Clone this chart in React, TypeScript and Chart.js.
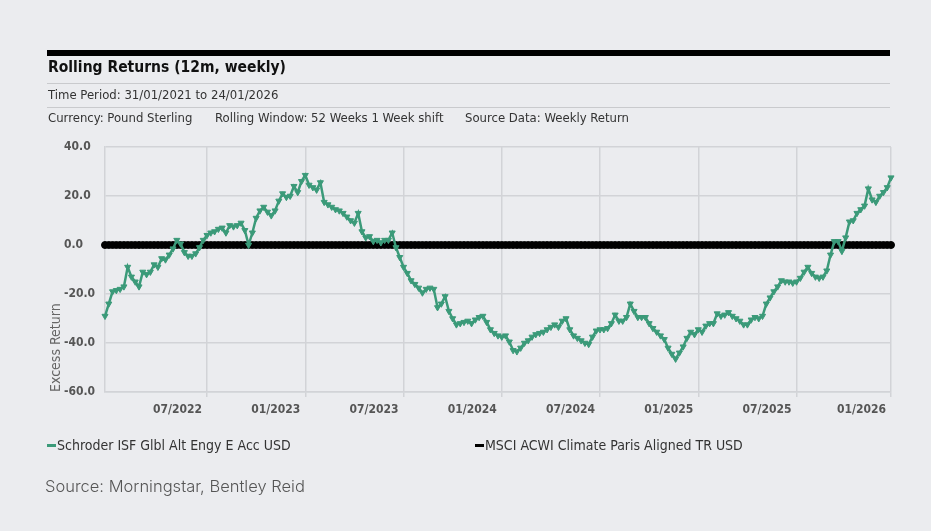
import React, { useEffect, useRef } from 'react';
import { Chart, registerables } from 'chart.js';

Chart.register(...registerables);

// ---- data ----
const fundName = 'Schroder ISF Glbl Alt Engy E Acc USD';
const benchName = 'MSCI ACWI Climate Paris Aligned TR USD';

// weekly rolling 12m excess return of the fund (first value = week ending 30/01/2022)
const fundExcess = [
  -29, -24, -19, -18.5, -18, -17, -9, -13, -15, -17,
  -11, -12, -11, -8, -9, -5.5, -6, -4, -1.5, 2,
  0.5, -3, -4.5, -4.5, -3.5, -1, 2, 4, 5, 5.5,
  6.5, 7, 5, 8, 7.5, 8, 9, 6, 0, 5,
  11, 14, 15.5, 13.5, 12, 14, 18, 21, 19.5, 20,
  24, 21.5, 26, 28.5, 24.5, 23.5, 22.5, 25.5, 17.5, 16.5,
  15.5, 14.5, 14, 13, 11.5, 10, 9, 13, 5.5, 3,
  3.5, 1.5, 2, 1, 2, 2, 5, -1, -5, -9,
  -11.5, -14.5, -16, -17.5, -19.5, -18, -17.5, -18, -25.5, -24,
  -21, -27, -30, -32.5, -32, -31.5, -31, -32, -30.5, -29.5,
  -29, -31.5, -34.5, -36, -37, -37.5, -37, -39.5, -43, -43.5,
  -42, -40, -39, -37.5, -36.5, -36, -35.5, -34.5, -33.5, -32.5,
  -33.5, -31, -30, -34.5, -37, -38, -39, -40, -40.5, -37.5,
  -35, -34.5, -34.5, -34, -32, -28.5, -31, -31, -29.5, -24,
  -27, -29.5, -29.5, -29.5, -32, -34, -35.5, -37, -38.5, -42,
  -44.5, -46.5, -44, -41.5, -38, -35.5, -36.5, -34.5, -35.5, -33,
  -32, -32, -28, -29, -28.5, -27.5, -29, -30, -31, -32.5,
  -32.5, -30.5, -29.5, -30, -29, -24, -21.5, -19, -17, -14.5,
  -15, -15, -15.5, -15, -13.5, -11, -9, -11.5, -13, -13.5,
  -13, -10.5, -4, 1.5, 1.5, -2.5, 3, 9.5, 10, 13,
  14.5, 16, 23, 18.5, 17.5, 20, 21.5, 23.5, 27.5,
];

// benchmark relative to itself
const benchExcess = [
  0, 0, 0, 0, 0, 0, 0, 0, 0, 0, 0, 0, 0, 0, 0, 0, 0, 0, 0, 0,
  0, 0, 0, 0, 0, 0, 0, 0, 0, 0, 0, 0, 0, 0, 0, 0, 0, 0, 0, 0,
  0, 0, 0, 0, 0, 0, 0, 0, 0, 0, 0, 0, 0, 0, 0, 0, 0, 0, 0, 0,
  0, 0, 0, 0, 0, 0, 0, 0, 0, 0, 0, 0, 0, 0, 0, 0, 0, 0, 0, 0,
  0, 0, 0, 0, 0, 0, 0, 0, 0, 0, 0, 0, 0, 0, 0, 0, 0, 0, 0, 0,
  0, 0, 0, 0, 0, 0, 0, 0, 0, 0, 0, 0, 0, 0, 0, 0, 0, 0, 0, 0,
  0, 0, 0, 0, 0, 0, 0, 0, 0, 0, 0, 0, 0, 0, 0, 0, 0, 0, 0, 0,
  0, 0, 0, 0, 0, 0, 0, 0, 0, 0, 0, 0, 0, 0, 0, 0, 0, 0, 0, 0,
  0, 0, 0, 0, 0, 0, 0, 0, 0, 0, 0, 0, 0, 0, 0, 0, 0, 0, 0, 0,
  0, 0, 0, 0, 0, 0, 0, 0, 0, 0, 0, 0, 0, 0, 0, 0, 0, 0, 0, 0,
  0, 0, 0, 0, 0, 0, 0, 0, 0,
];

// x tick positions (week index) and labels
const xTickWeeks = [27, 53, 79, 105, 131, 157, 183, 208];
const xTickLabels = ['07/2022', '01/2023', '07/2023', '01/2024', '07/2024', '01/2025', '07/2025', '01/2026'];
const yTicks = [-60, -40, -20, 0, 20, 40];

const GREEN = '#3b9a79';
const BG = '#ebecef';
const GRID = '#d2d3d7';
const FONT = '"DejaVu Sans Condensed", "DejaVu Sans", Tahoma, sans-serif';

export default function App() {
  const ref = useRef<HTMLCanvasElement>(null);

  useEffect(() => {
    const canvas = ref.current;
    if (!canvas) return;
    const chart = new Chart(canvas, {
      type: 'line',
      data: {
        datasets: [
          {
            label: fundName,
            data: fundExcess.map((y, i) => ({ x: i, y })),
            borderColor: GREEN,
            backgroundColor: GREEN,
            borderWidth: 2.5,
            pointStyle: 'triangle',
            rotation: 180,
            pointRadius: 3.5,
            pointBorderWidth: 1,
            tension: 0,
            clip: false,
          },
          {
            label: benchName,
            data: benchExcess.map((y, i) => ({ x: i, y })),
            borderColor: '#000',
            backgroundColor: '#000',
            borderWidth: 2,
            pointStyle: 'circle',
            pointRadius: 3.5,
            pointBorderWidth: 1,
            tension: 0,
            clip: false,
          },
        ],
      },
      options: {
        animation: false,
        responsive: false,
        maintainAspectRatio: false,
        layout: { padding: { left: 64, right: 40, top: 147, bottom: 109 } },
        plugins: { legend: { display: false }, tooltip: { enabled: false } },
        scales: {
          x: {
            type: 'linear',
            min: 0,
            max: fundExcess.length - 1,
            afterBuildTicks: (s: any) => {
              s.ticks = xTickWeeks.map((v) => ({ value: v }));
            },
            afterFit: (s: any) => {
              s.height = 30;
            },
            ticks: {
              autoSkip: false,
              maxRotation: 0,
              minRotation: 0,
              align: 'end',
              labelOffset: -5,
              padding: 6,
              color: '#555',
              font: { family: FONT, size: 12, weight: 'bold' },
              callback: (v: any) => {
                const i = xTickWeeks.indexOf(Number(v));
                return i >= 0 ? xTickLabels[i] : '';
              },
            },
            grid: { color: GRID, lineWidth: 1.5, drawTicks: true, tickLength: 5 },
            border: { display: true, color: GRID, width: 1.5 },
          },
          y: {
            type: 'linear',
            min: -60,
            max: 40,
            afterBuildTicks: (s: any) => {
              s.ticks = yTicks.map((v) => ({ value: v }));
            },
            afterFit: (s: any) => {
              s.width = 41;
            },
            ticks: {
              crossAlign: 'far',
              padding: 8,
              color: '#555',
              font: { family: FONT, size: 12, weight: 'bold' },
              callback: (v: any) => Number(v).toFixed(1),
            },
            grid: { color: GRID, lineWidth: 1.5, drawTicks: false },
            border: { display: true, color: GRID, width: 1.5 },
            title: {
              display: true,
              text: 'Excess Return',
              align: 'start',
              color: '#666',
              font: { family: FONT, size: 14 },
              padding: { top: -16, bottom: 0 },
            },
          },
        },
      },
    });
    return () => chart.destroy();
  }, []);

  const abs = (left: number, top: number, extra: any = {}) => ({ position: 'absolute' as const, left, top, ...extra });

  return (
    <div style={{ position: 'fixed', left: 0, top: 0, width: 931, height: 531, background: BG, overflow: 'hidden', fontFamily: FONT }}>
      <canvas ref={ref} width={931} height={531} style={abs(0, 0, { width: 931, height: 531 })} />
      <div style={abs(47, 50, { width: 843, height: 6, background: '#000' })} />
      <div style={abs(48, 58, { fontSize: 15.5, fontWeight: 'bold', color: '#111', whiteSpace: 'nowrap' })}>
        Rolling Returns (12m, weekly)
      </div>
      <div style={abs(47, 83, { width: 843, height: 1, background: '#c9cacd' })} />
      <div style={abs(48, 87, { fontSize: 13, color: '#333', whiteSpace: 'nowrap' })}>
        Time Period: 31/01/2021 to 24/01/2026
      </div>
      <div style={abs(47, 107, { width: 843, height: 1, background: '#c9cacd' })} />
      <div style={abs(48, 110, { fontSize: 13, color: '#333', whiteSpace: 'nowrap' })}>Currency: Pound Sterling</div>
      <div style={abs(215, 110, { fontSize: 13, color: '#333', whiteSpace: 'nowrap' })}>
        Rolling Window: 52 Weeks 1 Week shift
      </div>
      <div style={abs(465, 110, { fontSize: 13, color: '#333', whiteSpace: 'nowrap' })}>
        Source Data: Weekly Return
      </div>
      <div style={abs(47, 437, { display: 'flex', alignItems: 'center', fontSize: 14, color: '#333', whiteSpace: 'nowrap' })}>
        <span style={{ display: 'inline-block', width: 9, height: 3, background: GREEN, marginRight: 1 }} />
        {fundName}
      </div>
      <div style={abs(475, 437, { display: 'flex', alignItems: 'center', fontSize: 14, color: '#333', whiteSpace: 'nowrap' })}>
        <span style={{ display: 'inline-block', width: 9, height: 3, background: '#000', marginRight: 1 }} />
        {benchName}
      </div>
      <div style={abs(45, 476, { fontFamily: 'Inter, Roboto, sans-serif', fontSize: 16.5, fontWeight: 300, color: '#555', whiteSpace: 'nowrap' })}>
        Source: Morningstar, Bentley Reid
      </div>
    </div>
  );
}
